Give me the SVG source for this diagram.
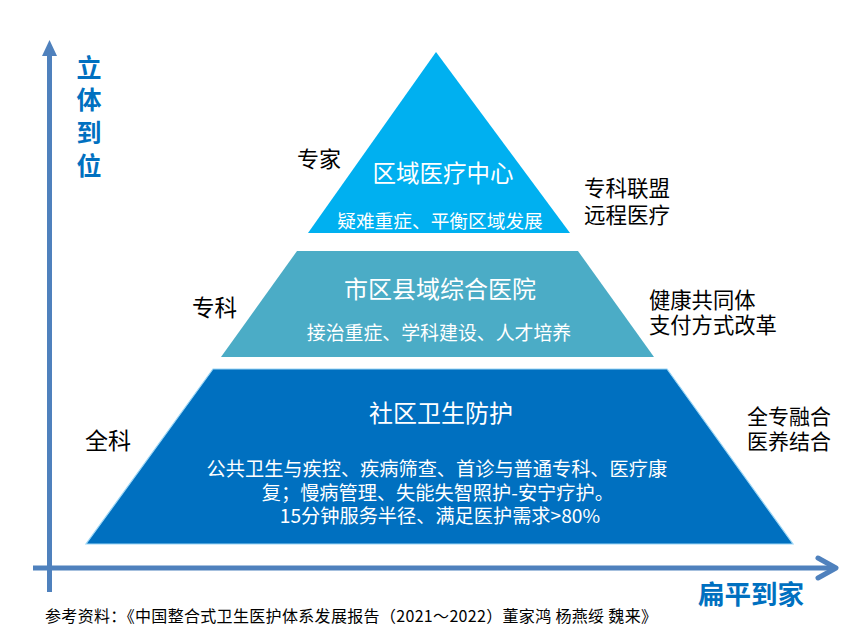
<svg xmlns="http://www.w3.org/2000/svg" width="852" height="634" viewBox="0 0 852 634">
<defs>
<style>
.cjk{font-family:"Microsoft YaHei","Noto Sans CJK SC","Noto Sans",sans-serif;}
.w{fill:#ffffff;}
.k{fill:#000000;}
.axis{fill:#0070C0;font-weight:bold;}
.ax{stroke:#4F81BD;stroke-width:5;fill:none;}
</style>
</defs>
<rect width="852" height="634" fill="#ffffff"/>

<g id="connectors">
<line class="ax" x1="49.5" y1="592" x2="49.5" y2="52"/>
<polygon points="49.5,40 42,56 57,56" fill="#4F81BD"/>
<line class="ax" x1="33" y1="568" x2="834" y2="568"/>
<polyline class="ax" points="818,558 836,568 818,578" stroke-linecap="round" stroke-linejoin="round"/>
</g>

<g id="axis-vertical" class="cjk axis" font-size="25" text-anchor="middle">
<text x="89" y="77">立</text>
<text x="89" y="109">体</text>
<text x="89" y="142">到</text>
<text x="89" y="175">位</text>
</g>
<g id="axis-horizontal">
<text class="cjk axis" x="751" y="604" font-size="26.5" text-anchor="middle">扁平到家</text>
</g>

<g id="node-top">
<polygon points="436,52 570,233 308,233" fill="#00B0F0"/>
<text class="cjk w" x="443" y="182" font-size="23.5" text-anchor="middle">区域医疗中心</text>
<text class="cjk w" x="440" y="228" font-size="18.7" text-anchor="middle">疑难重症、平衡区域发展</text>
</g>

<g id="node-middle">
<polygon points="297,251 578,251 654,357 221,357" fill="#4BACC6"/>
<text class="cjk w" x="440" y="298" font-size="24" text-anchor="middle">市区县域综合医院</text>
<text class="cjk w" x="439" y="340" font-size="18.9" text-anchor="middle">接治重症、学科建设、人才培养</text>
</g>

<g id="node-bottom">
<polygon points="213,369 667,369 793,544 86,544" fill="#0070C0" stroke="#9CD6F5" stroke-width="1.2"/>
<text class="cjk w" x="441" y="422" font-size="24" text-anchor="middle">社区卫生防护</text>
<text class="cjk w" font-size="19.2" text-anchor="middle">
<tspan x="439" y="476">公共卫生与疾控、疾病筛查、首诊与普通专科、医疗康</tspan>
<tspan x="440" y="500">复；慢病管理、失能失智照护-安宁疗护。</tspan>
<tspan x="440" y="523">15分钟服务半径、满足医护需求&gt;80%</tspan>
</text>
</g>

<g id="label-left-top"><text class="cjk k" x="297" y="167" font-size="22">专家</text></g>
<g id="label-left-middle"><text class="cjk k" x="192" y="316" font-size="22.5">专科</text></g>
<g id="label-left-bottom"><text class="cjk k" x="85" y="449" font-size="23">全科</text></g>

<g id="label-right-top" class="cjk k" font-size="21.5">
<text x="584" y="196">专科联盟</text>
<text x="584" y="223">远程医疗</text>
</g>
<g id="label-right-middle" class="cjk k" font-size="21.3">
<text x="649" y="308">健康共同体</text>
<text x="649" y="333">支付方式改革</text>
</g>
<g id="label-right-bottom" class="cjk k" font-size="21">
<text x="747" y="424">全专融合</text>
<text x="747" y="449">医养结合</text>
</g>

<g id="footnote">
<text class="cjk k" x="45" y="622" font-size="16" textLength="612" lengthAdjust="spacing">参考资料：《中国整合式卫生医护体系发展报告（2021～2022）董家鸿 杨燕绥 魏来》</text>
</g>
</svg>
